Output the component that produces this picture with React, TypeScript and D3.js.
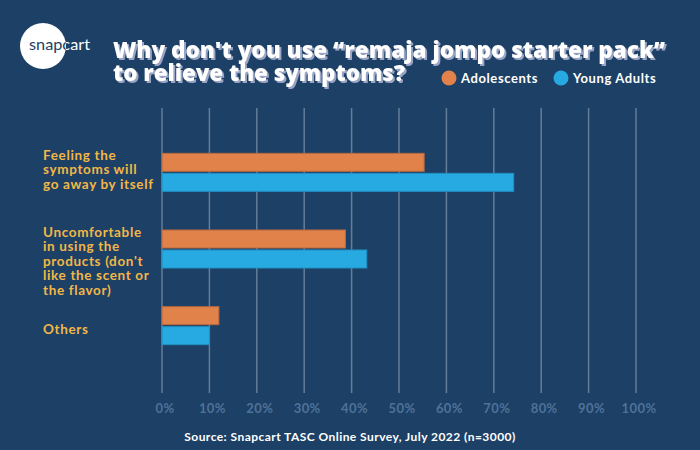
import React from "react";
import * as d3 from "d3";

const categories = ["Feeling the symptoms will go away by itself", "Uncomfortable in using the products (don't like the scent or the flavor)", "Others"];
const categoryLines = [
  ["Feeling the", "symptoms will", "go away by itself"],
  ["Uncomfortable", "in using the", "products (don't", "like the scent or", "the flavor)"],
  ["Others"],
];
const adolescents = [55.3, 38.7, 12];
const youngAdults = [74.2, 43.2, 10];
const seriesNames = ["Adolescents", "Young Adults"];
const ticks = [0, 10, 20, 30, 40, 50, 60, 70, 80, 90, 100];

const W = 700, H = 450;
const BG = "#1c4066";
const ORANGE = "#e0824a";
const BLUE = "#27a9e1";
const LABEL = "#f2b746";

export default function App() {
  const x = d3.scaleLinear().domain([0, 100]).range([162, 636]);
  const y = d3.scaleBand().domain(categories).range([134, 364]);
  const barH = 18, gap = 2;
  const font = "Lato, 'Open Sans', sans-serif";
  const titleFont = "'Open Sans', Lato, sans-serif";

  return (
    <svg width={W} height={H} style={{ display: "block", position: "absolute", left: 0, top: 0 }}>
      <defs>
        <clipPath id="logoClip">
          <circle cx={43} cy={46} r={23} />
        </clipPath>
        <filter id="titleShadow" x="-5%" y="-20%" width="110%" height="150%">
          <feDropShadow dx={2} dy={2} stdDeviation={0.3} floodColor="#9aa4c4" floodOpacity={1} />
        </filter>
      </defs>
      <rect x={0} y={0} width={W} height={H} fill={BG} />

      {/* logo */}
      <circle cx={43} cy={46} r={23} fill="#ffffff" />
      <text x={29} y={50} fontFamily={font} fontSize={15} fill="#ffffff" textLength={61} lengthAdjust="spacingAndGlyphs">snapcart</text>
      <text x={29} y={50} fontFamily={font} fontSize={15} fill={BG} clipPath="url(#logoClip)" textLength={61} lengthAdjust="spacingAndGlyphs">snapcart</text>

      {/* title with shadow */}
      <text fontFamily={titleFont} fontWeight={800} fontSize={23} fill="#ffffff" filter="url(#titleShadow)">
        <tspan x={113} y={58} textLength={552} lengthAdjust="spacingAndGlyphs">{"Why don't you use \u201cremaja jompo starter pack\u201d"}</tspan>
        <tspan x={113} y={81} textLength={292} lengthAdjust="spacingAndGlyphs">to relieve the symptoms?</tspan>
      </text>

      {/* legend */}
      <circle cx={449} cy={78} r={7.5} fill={ORANGE} />
      <text x={461} y={82.5} fontFamily={font} fontWeight={700} fontSize={13} letterSpacing={0.6} fill="#ffffff">{seriesNames[0]}</text>
      <circle cx={561} cy={78} r={7.5} fill={BLUE} />
      <text x={573} y={82.5} fontFamily={font} fontWeight={700} fontSize={13} letterSpacing={0.6} fill="#ffffff">{seriesNames[1]}</text>

      {/* gridlines */}
      {ticks.map((t) => (
        <g key={t}>
          <line x1={x(t)} x2={x(t)} y1={108} y2={393} stroke="rgba(255,255,255,0.32)" strokeWidth={1.5} />
          <text x={x(t) + 3} y={412.5} textAnchor="middle" fontFamily={font} fontWeight={700} fontSize={13} letterSpacing={0.4} fill="#4f7299">{t}%</text>
        </g>
      ))}

      {/* bars */}
      {categories.map((c, i) => {
        const cy = (y(c) as number) + y.bandwidth() / 2;
        return (
          <g key={c}>
            <rect x={x(0)} y={cy - barH - gap / 2} width={x(adolescents[i]) - x(0)} height={barH} fill={ORANGE} stroke="#b8693f" strokeWidth={1} />
            <rect x={x(0)} y={cy + gap / 2} width={x(youngAdults[i]) - x(0)} height={barH} fill={BLUE} stroke="#2290c4" strokeWidth={1} />
          </g>
        );
      })}

      {/* category labels */}
      {categories.map((c, i) => {
        const lines = categoryLines[i];
        const cy = (y(c) as number) + y.bandwidth() / 2;
        const firstCenter = lines.length > 1 ? cy - barH - gap / 2 + 2 : cy + 3.5;
        return (
          <text key={c} fontFamily={font} fontWeight={700} fontSize={13.5} letterSpacing={0.65} fill={LABEL}>
            {lines.map((ln, j) => (
              <tspan key={j} x={43} y={firstCenter + j * 14.5 + 4.5}>{ln}</tspan>
            ))}
          </text>
        );
      })}

      {/* source */}
      <text x={350} y={441} textAnchor="middle" fontFamily={font} fontWeight={700} fontSize={12} letterSpacing={0.45} fill="#ffffff">Source: Snapcart TASC Online Survey, July 2022 (n=3000)</text>
    </svg>
  );
}
